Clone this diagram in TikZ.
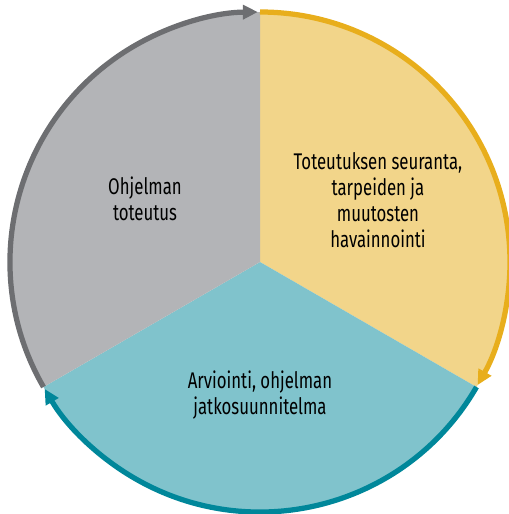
\documentclass[tikz,border=0pt]{standalone}
\usepackage{fontspec}
\setmainfont[FakeStretch=0.74]{Fira Sans}
\usetikzlibrary{arrows.meta}

\definecolor{yellowfill}{HTML}{F2D58A}
\definecolor{yellowline}{HTML}{E8AE1C}
\definecolor{tealfill}{HTML}{80C3CC}
\definecolor{tealline}{HTML}{00879A}
\definecolor{grayfill}{HTML}{B3B4B7}
\definecolor{grayline}{HTML}{6D6E71}

\begin{document}
\begin{tikzpicture}

\useasboundingbox (-5.2,-5.04) rectangle (4.96,5.24);

\tikzset{%
  cycle arc/.style={line width=1.05mm,-{Triangle[length=3mm,width=2.8mm]}},
  phase/.style={align=center,font=\fontsize{12.9}{14.8}\selectfont},
}

% sectors
\fill[yellowfill] (0,0) -- (90:5) arc[start angle=90,end angle=-30,radius=5] -- cycle;
\fill[tealfill] (0,0) -- (-30:5) arc[start angle=-30,end angle=-150,radius=5] -- cycle;
\fill[grayfill] (0,0) -- (210:5) arc[start angle=210,end angle=90,radius=5] -- cycle;

% arrows round the edge
\draw[cycle arc,yellowline] (90:5) arc[start angle=90,end angle=-29.5,radius=5];
\draw[cycle arc,tealline] (-30:5) arc[start angle=-30,end angle=-149.5,radius=5];
\draw[cycle arc,grayline] (210:5) arc[start angle=210,end angle=90.5,radius=5];

\node[phase] (seuranta) at (2.36,1.24) {Toteutuksen seuranta,\\tarpeiden ja\\muutosten\\havainnointi};
\node[phase] (arviointi) at (0,-2.66) {Arviointi, ohjelman\\jatkosuunnitelma};
\node[phase] (toteutus) at (-2.3,1.26) {Ohjelman\\toteutus};

\end{tikzpicture}
\end{document}
